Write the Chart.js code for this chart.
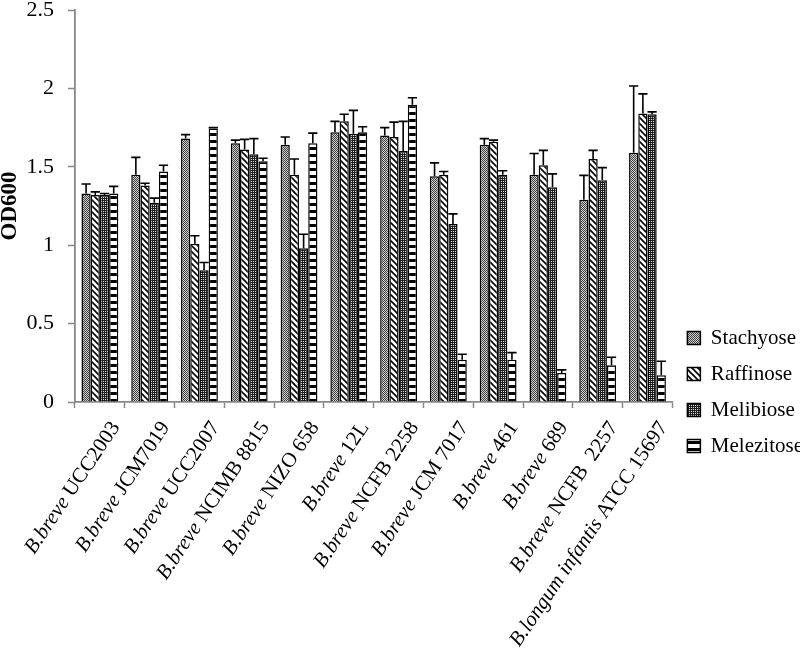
<!DOCTYPE html>
<html>
<head>
<meta charset="utf-8">
<script src="https://cdn.jsdelivr.net/npm/chart.js@4/dist/chart.umd.min.js"></script>
<style>
  html, body { margin: 0; padding: 0; background: #fff; }
  #wrap { width: 800px; height: 665px; }
</style>
</head>
<body>
<div id="wrap"><canvas id="odChart"></canvas></div>
<script>
// Strains (species part is italic on the axis)
const species = ['B.breve', 'B.breve', 'B.breve', 'B.breve', 'B.breve', 'B.breve',
  'B.breve', 'B.breve', 'B.breve', 'B.breve', 'B.breve', 'B.longum infantis'];
const strains = ['UCC2003', 'JCM7019', 'UCC2007', 'NCIMB 8815', 'NIZO 658', '12L',
  'NCFB 2258', 'JCM 7017', '461', '689', 'NCFB  2257', 'ATCC 15697'];
const categories = species.map((s, i) => s + ' ' + strains[i]);

// OD600 per sugar
const stachyose = [1.33, 1.45, 1.68, 1.65, 1.64, 1.72, 1.70, 1.44, 1.64, 1.45, 1.29, 1.59];
const raffinose = [1.32, 1.38, 1.01, 1.61, 1.45, 1.79, 1.69, 1.45, 1.66, 1.51, 1.55, 1.84];
const melibiose = [1.32, 1.27, 0.84, 1.58, 0.98, 1.71, 1.60, 1.135, 1.45, 1.37, 1.415, 1.835];
const melezitose = [1.33, 1.47, 1.745, 1.535, 1.65, 1.72, 1.895, 0.27, 0.27, 0.185, 0.235, 0.17];

// Error bars (upper only)
const stachyoseErr = [0.06, 0.11, 0.025, 0.02, 0.05, 0.07, 0.05, 0.085, 0.04, 0.135, 0.155, 0.425];
const raffinoseErr = [0.02, 0.015, 0.05, 0.065, 0.10, 0.045, 0.095, 0.02, 0.01, 0.095, 0.055, 0.125];
const melibioseErr = [0.01, 0.03, 0.05, 0.10, 0.09, 0.15, 0.19, 0.065, 0.025, 0.085, 0.08, 0.015];
const melezitoseErr = [0.045, 0.04, 0.005, 0.02, 0.065, 0.035, 0.045, 0.035, 0.045, 0.02, 0.05, 0.09];

const yTicks = [0, 0.5, 1, 1.5, 2, 2.5];

const SERIF = "'Liberation Serif', 'Times New Roman', serif";

// Fill patterns like the original black & white figure
function makePattern(w, h, draw) {
  const c = document.createElement('canvas');
  c.width = w;
  c.height = h;
  const g = c.getContext('2d');
  draw(g);
  return g.createPattern(c, 'repeat');
}

const stachyoseFill = makePattern(2, 2, (g) => {
  g.fillStyle = '#d0d0d0';
  g.fillRect(0, 0, 2, 2);
  g.fillStyle = '#404040';
  g.fillRect(0, 0, 1, 1);
  g.fillRect(1, 1, 1, 1);
});

const raffinoseFill = makePattern(6, 6, (g) => {
  g.fillStyle = '#fff';
  g.fillRect(0, 0, 6, 6);
  g.strokeStyle = '#000';
  g.lineWidth = 1.6;
  [-6, 0, 6].forEach((k) => {
    g.beginPath();
    g.moveTo(-1, k - 1);
    g.lineTo(7, k + 7);
    g.stroke();
  });
});

const melibioseFill = makePattern(4, 4, (g) => {
  g.fillStyle = '#1e1e1e';
  g.fillRect(0, 0, 4, 4);
  g.fillStyle = '#e0e0e0';
  g.fillRect(1, 1, 1, 1);
  g.fillRect(3, 3, 1, 1);
  g.fillRect(1, 3, 1, 1);
  g.fillRect(3, 1, 1, 1);
});

const melezitoseFill = makePattern(7, 7, (g) => {
  g.fillStyle = '#fff';
  g.fillRect(0, 0, 7, 7);
  g.fillStyle = '#000';
  g.fillRect(0, 0, 7, 3);
});

// Upper error bars
const errorBars = {
  id: 'errorBars',
  afterDatasetsDraw(chart) {
    const ctx = chart.ctx;
    const yScale = chart.scales.y;
    ctx.save();
    ctx.strokeStyle = '#000';
    ctx.lineWidth = 1.6;
    chart.data.datasets.forEach((ds, i) => {
      const meta = chart.getDatasetMeta(i);
      meta.data.forEach((bar, j) => {
        const top = yScale.getPixelForValue(ds.data[j] + ds.errors[j]);
        const half = bar.width / 2;
        ctx.beginPath();
        ctx.moveTo(bar.x, bar.y);
        ctx.lineTo(bar.x, top);
        ctx.moveTo(bar.x - half, top);
        ctx.lineTo(bar.x + half, top);
        ctx.stroke();
      });
    });
    ctx.restore();
  }
};

// Rotated category labels with italic species names
const strainLabels = {
  id: 'strainLabels',
  afterDraw(chart) {
    const ctx = chart.ctx;
    const xScale = chart.scales.x;
    const italic = 'italic 21px ' + SERIF;
    const plain = '21px ' + SERIF;
    ctx.save();
    ctx.fillStyle = '#000';
    ctx.textBaseline = 'middle';
    ctx.textAlign = 'left';
    categories.forEach((c, i) => {
      const px = xScale.getPixelForValue(i) + 16;
      const py = xScale.top + 22;
      ctx.font = italic;
      const w1 = ctx.measureText(species[i]).width;
      ctx.font = plain;
      const w2 = ctx.measureText(' ' + strains[i]).width;
      ctx.save();
      ctx.translate(px, py);
      ctx.rotate(-56 * Math.PI / 180);
      ctx.font = italic;
      ctx.fillText(species[i], -(w1 + w2), 0);
      ctx.font = plain;
      ctx.fillText(' ' + strains[i], -w2, 0);
      ctx.restore();
    });
    ctx.restore();
  }
};

const ctx = document.getElementById('odChart').getContext('2d');
new Chart(ctx, {
  type: 'bar',
  data: {
    labels: categories,
    datasets: [
      { label: 'Stachyose', data: stachyose, errors: stachyoseErr, backgroundColor: stachyoseFill },
      { label: 'Raffinose', data: raffinose, errors: raffinoseErr, backgroundColor: raffinoseFill },
      { label: 'Melibiose', data: melibiose, errors: melibioseErr, backgroundColor: melibioseFill },
      { label: 'Melezitose', data: melezitose, errors: melezitoseErr, backgroundColor: melezitoseFill }
    ].map((d) => Object.assign(d, {
      borderColor: '#000',
      borderWidth: 1.5,
      borderSkipped: 'bottom',
      categoryPercentage: 0.74,
      barPercentage: 1.0
    }))
  },
  options: {
    responsive: true,
    maintainAspectRatio: false,
    animation: false,
    events: [],
    layout: {
      padding: { top: 10, right: -13, bottom: -109, left: 0 }
    },
    scales: {
      x: {
        grid: {
          offset: true,
          drawOnChartArea: false,
          tickLength: 6,
          tickWidth: 1.5,
          color: '#888'
        },
        border: { color: '#888', width: 1.8 },
        ticks: { display: false, autoSkip: false },
        afterFit(scale) {
          scale.height = 372;
        }
      },
      y: {
        min: 0,
        max: 2.5,
        afterBuildTicks(scale) {
          scale.ticks = yTicks.map((v) => ({ value: v }));
        },
        grid: {
          drawOnChartArea: false,
          tickLength: 7,
          tickWidth: 1.5,
          color: '#888'
        },
        border: { color: '#888', width: 1.8 },
        ticks: {
          color: '#000',
          padding: 14,
          font: { family: SERIF, size: 22 },
          callback: (value) => String(value)
        },
        title: {
          display: true,
          text: 'OD600',
          color: '#000',
          padding: { top: -1, bottom: 0 },
          font: { family: SERIF, size: 23, weight: 'bold', lineHeight: 1 }
        },
        afterFit(scale) {
          scale.width = 75;
          scale.paddingTop = 0;
          scale.paddingBottom = 0;
        }
      }
    },
    plugins: {
      legend: {
        position: 'right',
        align: 'center',
        labels: {
          color: '#000',
          boxWidth: 13,
          boxHeight: 13,
          padding: 15,
          font: { family: SERIF, size: 21 }
        }
      },
      tooltip: { enabled: false }
    }
  },
  plugins: [errorBars, strainLabels]
});
</script>
</body>
</html>
